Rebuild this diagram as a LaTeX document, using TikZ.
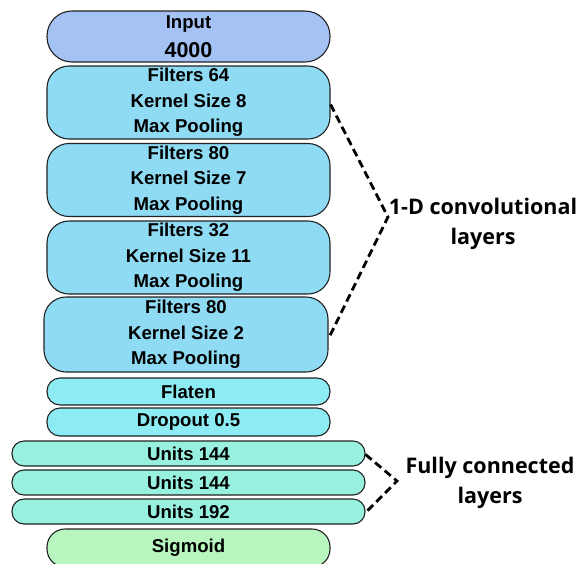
\documentclass[tikz,border=0pt]{standalone}
\usepackage{fontspec}
\setmainfont{Liberation Sans}
\newfontfamily\labelfont{Open Sans}
\definecolor{inputc}{HTML}{A4C2F4}
\definecolor{convc}{HTML}{8EDBF3}
\definecolor{flatc}{HTML}{8DEBF4}
\definecolor{unitc}{HTML}{98F1DE}
\definecolor{sigc}{HTML}{B8F5BF}
\definecolor{edgec}{HTML}{222222}
\begin{document}
\begin{tikzpicture}[x=1pt,y=-1pt,
  box/.style={draw=edgec, line width=1.1pt, rectangle, inner sep=0pt, align=center,
    font=\fontsize{18.6}{25.5}\selectfont\bfseries},
  bracket/.style={draw=black, line width=2.8pt, dash pattern=on 8pt off 4.5pt},
  sidelabel/.style={align=center, inner sep=0pt, font=\labelfont\fontsize{21.5}{30}\selectfont\bfseries}]
\useasboundingbox (0,0) rectangle (578,563);
\node[box, fill=inputc, minimum width=283pt, minimum height=51pt, rounded corners=25pt] (inp) at (188.5,36.5)
  {Input\\[3pt]{\fontsize{21.5}{25}\selectfont 4000}};
\node[box, fill=convc, minimum width=283pt, minimum height=73pt, rounded corners=22pt] (c1) at (188.5,102.5)
  {Filters 64\\Kernel Size 8\\Max Pooling};
\node[box, fill=convc, minimum width=283pt, minimum height=73pt, rounded corners=22pt] (c2) at (188.5,180)
  {Filters 80\\Kernel Size 7\\Max Pooling};
\node[box, fill=convc, minimum width=283pt, minimum height=73pt, rounded corners=22pt] (c3) at (188.5,257.5)
  {Filters 32\\Kernel Size 11\\Max Pooling};
\node[box, fill=convc, minimum width=284pt, minimum height=75pt, rounded corners=22pt] (c4) at (186,334.5)
  {Filters 80\\Kernel Size 2\\Max Pooling};
\node[box, fill=flatc, minimum width=283pt, minimum height=27pt, rounded corners=13pt] (fl) at (188.5,391.5) {Flaten};
\node[box, fill=flatc, minimum width=283pt, minimum height=28pt, rounded corners=13pt] (dr) at (188.5,422) {Dropout 0.5};
\node[box, fill=unitc, minimum width=353pt, minimum height=25pt, rounded corners=12pt] (u1) at (188.5,453.5) {Units 144};
\node[box, fill=unitc, minimum width=353pt, minimum height=25pt, rounded corners=12pt] (u2) at (188.5,482.5) {Units 144};
\node[box, fill=unitc, minimum width=353pt, minimum height=25pt, rounded corners=12pt] (u3) at (188.5,511.5) {Units 192};
\node[box, fill=sigc, minimum width=283pt, minimum height=38pt, rounded corners=18pt] (sg) at (188.5,548) {\raisebox{5pt}{Sigmoid}};
\coordinate (cv) at (388,217);
\coordinate (fc) at (397,481);
\draw[bracket] ([yshift=-2pt]c1.east) -- (cv) -- ([yshift=-4pt]c4.east);
\draw[bracket] ([yshift=-1pt]u1.east) -- (fc) -- ([yshift=-1pt]u3.east);
\node[sidelabel] (cvl) at (483,224) {1-D convolutional\\layers};
\node[sidelabel] (fcl) at (490,483) {Fully connected\\layers};
\end{tikzpicture}
\end{document}
